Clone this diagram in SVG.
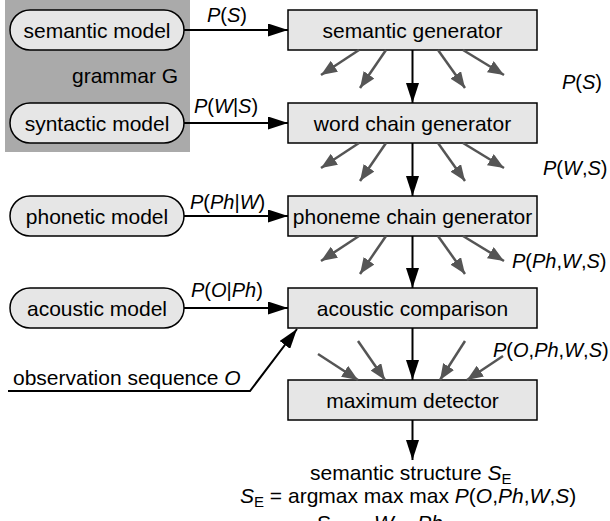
<svg xmlns="http://www.w3.org/2000/svg" width="610" height="521" viewBox="0 0 610 521">
<defs>
<style>
text{font-family:"Liberation Sans",Arial,sans-serif;font-size:21px;fill:#000}
.l{font-size:20px}
.i{font-style:italic}
.pill{fill:#e6e6e6;stroke:#000;stroke-width:1.5}
.box{fill:#e6e6e6;stroke:#000;stroke-width:1.5}
.blk{stroke:#000;stroke-width:2;fill:none}
.gry{stroke:#555;stroke-width:2.5;fill:none}
.c{text-anchor:middle}
</style>
<marker id="ab" markerUnits="userSpaceOnUse" markerWidth="20" markerHeight="13" refX="20" refY="6.5" orient="auto" viewBox="0 0 20 13">
<path d="M0,0 L20,6.5 L0,13 z" fill="#000"/>
</marker>
<marker id="ag" markerUnits="userSpaceOnUse" markerWidth="16" markerHeight="13" refX="16" refY="6.5" orient="auto" viewBox="0 0 16 13">
<path d="M0,0 L16,6.5 L0,13 z" fill="#555"/>
</marker>
</defs>
<rect x="5" y="0" width="185" height="152" fill="#aaaaaa"/>
<text x="72" y="83">grammar G</text>
<g id="semantic_model"><rect class="pill" x="10" y="10" width="174" height="40" rx="20"/><text class="c" x="97" y="38">semantic model</text></g>
<g id="syntactic_model"><rect class="pill" x="10" y="103" width="174" height="40" rx="20"/><text class="c" x="97" y="131">syntactic model</text></g>
<g id="phonetic_model"><rect class="pill" x="10" y="196" width="174" height="40" rx="20"/><text class="c" x="97" y="224">phonetic model</text></g>
<g id="acoustic_model"><rect class="pill" x="10" y="288" width="174" height="40" rx="20"/><text class="c" x="97" y="316">acoustic model</text></g>
<g id="semantic_generator"><rect class="box" x="288" y="10" width="249" height="40"/><text class="c" x="412.5" y="38">semantic generator</text></g>
<g id="word_chain_generator"><rect class="box" x="288" y="103" width="249" height="40"/><text class="c" x="412.5" y="131">word chain generator</text></g>
<g id="phoneme_chain_generator"><rect class="box" x="288" y="196" width="249" height="40"/><text class="c" x="412.5" y="224">phoneme chain generator</text></g>
<g id="acoustic_comparison"><rect class="box" x="288" y="288" width="249" height="40"/><text class="c" x="412.5" y="316">acoustic comparison</text></g>
<g id="maximum_detector"><rect class="box" x="288" y="380" width="249" height="40"/><text class="c" x="412.5" y="408">maximum detector</text></g>
<g id="connectors">
<line class="blk" x1="184" y1="30" x2="288" y2="30" marker-end="url(#ab)"/>
<line class="blk" x1="184" y1="123" x2="288" y2="123" marker-end="url(#ab)"/>
<line class="blk" x1="184" y1="216" x2="288" y2="216" marker-end="url(#ab)"/>
<line class="blk" x1="184" y1="308" x2="288" y2="308" marker-end="url(#ab)"/>
<line class="blk" x1="412.5" y1="50" x2="412.5" y2="103" marker-end="url(#ab)"/>
<line class="blk" x1="412.5" y1="143" x2="412.5" y2="196" marker-end="url(#ab)"/>
<line class="blk" x1="412.5" y1="236" x2="412.5" y2="288" marker-end="url(#ab)"/>
<line class="blk" x1="412.5" y1="328" x2="412.5" y2="380" marker-end="url(#ab)"/>
<line class="blk" x1="412.5" y1="420" x2="412.5" y2="460" marker-end="url(#ab)"/>
<polyline class="blk" points="8,391 250,391 297,329" marker-end="url(#ab)"/>
<line class="gry" x1="359" y1="50" x2="321" y2="75" marker-end="url(#ag)"/>
<line class="gry" x1="386" y1="50" x2="360" y2="88" marker-end="url(#ag)"/>
<line class="gry" x1="438" y1="50" x2="465" y2="88" marker-end="url(#ag)"/>
<line class="gry" x1="463" y1="50" x2="504" y2="75" marker-end="url(#ag)"/>
<line class="gry" x1="359" y1="143" x2="321" y2="168" marker-end="url(#ag)"/>
<line class="gry" x1="386" y1="143" x2="360" y2="181" marker-end="url(#ag)"/>
<line class="gry" x1="438" y1="143" x2="465" y2="181" marker-end="url(#ag)"/>
<line class="gry" x1="463" y1="143" x2="504" y2="168" marker-end="url(#ag)"/>
<line class="gry" x1="359" y1="236" x2="321" y2="261" marker-end="url(#ag)"/>
<line class="gry" x1="386" y1="236" x2="360" y2="274" marker-end="url(#ag)"/>
<line class="gry" x1="438" y1="236" x2="465" y2="274" marker-end="url(#ag)"/>
<line class="gry" x1="463" y1="236" x2="504" y2="261" marker-end="url(#ag)"/>
<line class="gry" x1="318" y1="354" x2="358" y2="380" marker-end="url(#ag)"/>
<line class="gry" x1="358" y1="341" x2="385" y2="380" marker-end="url(#ag)"/>
<line class="gry" x1="465" y1="341" x2="440" y2="380" marker-end="url(#ag)"/>
<line class="gry" x1="503" y1="356" x2="467" y2="380" marker-end="url(#ag)"/>
</g>
<text class="l" x="207" y="22"><tspan class="i">P</tspan>(<tspan class="i">S</tspan>)</text>
<text class="l" x="194" y="113"><tspan class="i">P</tspan>(<tspan class="i">W</tspan>|<tspan class="i">S</tspan>)</text>
<text class="l" x="190" y="209"><tspan class="i">P</tspan>(<tspan class="i">Ph</tspan>|<tspan class="i">W</tspan>)</text>
<text class="l" x="191" y="297"><tspan class="i">P</tspan>(<tspan class="i">O</tspan>|<tspan class="i">Ph</tspan>)</text>
<text class="l" x="562" y="89"><tspan class="i">P</tspan>(<tspan class="i">S</tspan>)</text>
<text class="l" x="543" y="175"><tspan class="i">P</tspan>(<tspan class="i">W</tspan>,<tspan class="i">S</tspan>)</text>
<text class="l" x="512" y="268"><tspan class="i">P</tspan>(<tspan class="i">Ph</tspan>,<tspan class="i">W</tspan>,<tspan class="i">S</tspan>)</text>
<text class="l" x="493" y="357"><tspan class="i">P</tspan>(<tspan class="i">O</tspan>,<tspan class="i">Ph</tspan>,<tspan class="i">W</tspan>,<tspan class="i">S</tspan>)</text>
<text x="13" y="385">observation sequence <tspan class="i">O</tspan></text>
<text x="310" y="480">semantic structure <tspan class="i">S</tspan><tspan font-size="15" dy="4">E</tspan></text>
<text x="240" y="503"><tspan class="i">S</tspan><tspan font-size="15" dy="4">E</tspan><tspan dy="-4"> = argmax max max </tspan><tspan class="i">P</tspan>(<tspan class="i">O</tspan>,<tspan class="i">Ph</tspan>,<tspan class="i">W</tspan>,<tspan class="i">S</tspan>)</text>
<text class="i c" x="323" y="530" font-size="18">S</text>
<text class="i c" x="384" y="530" font-size="18">W</text>
<text class="i c" x="430" y="530" font-size="18">Ph</text>
</svg>
